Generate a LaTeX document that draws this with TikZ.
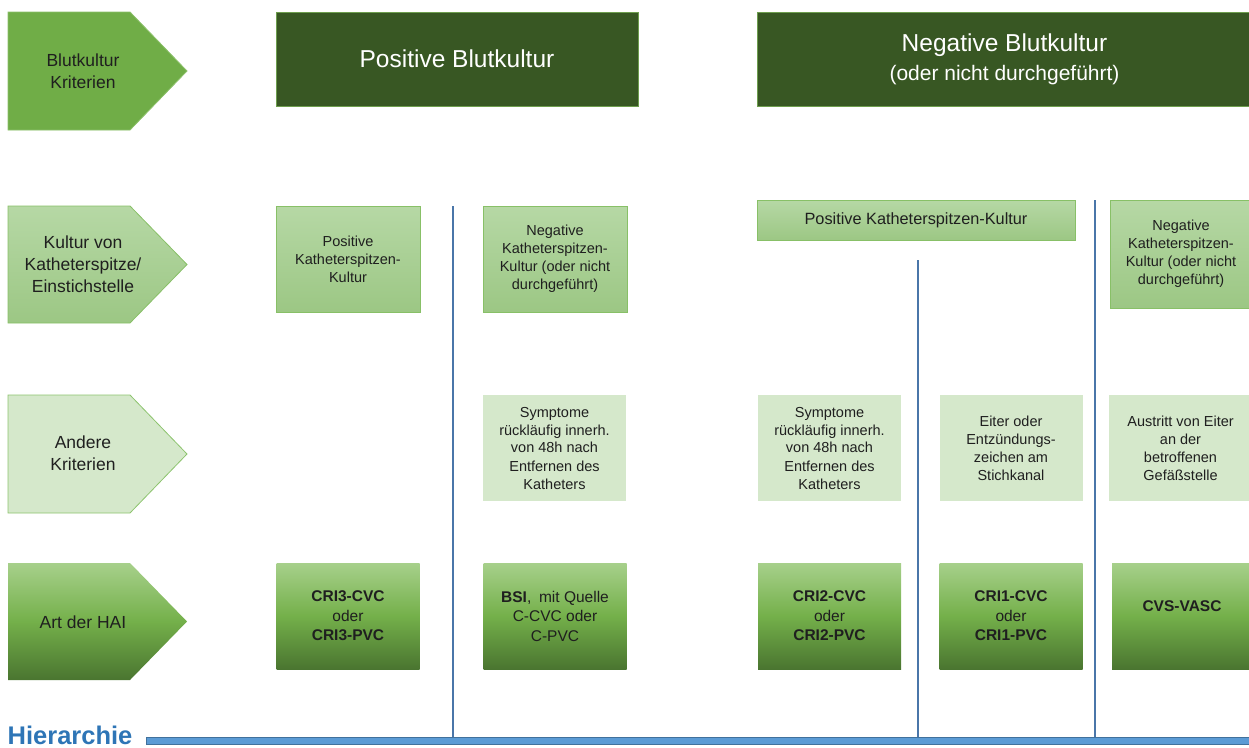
\documentclass[tikz,border=0pt]{standalone}
\usepackage{fontspec}
\setmainfont{Liberation Sans}
\definecolor{hdr}{HTML}{385723}
\definecolor{hdrborder}{HTML}{6E9E4E}
\definecolor{midgreen}{HTML}{70AD47}
\definecolor{midborder}{HTML}{8CC06A}
\definecolor{lgtop}{HTML}{B6D8A5}
\definecolor{lgbot}{HTML}{9CC784}
\definecolor{lgborder}{HTML}{88C067}
\definecolor{pale}{HTML}{D5E8CB}
\definecolor{paleborder}{HTML}{8DC46E}
\definecolor{dgtop}{HTML}{A7D08B}
\definecolor{dgmid}{HTML}{74B04A}
\definecolor{dgbot}{HTML}{4A7530}
\definecolor{sepblue}{HTML}{4A76A9}
\definecolor{barblue}{HTML}{5B9BD5}
\definecolor{barborder}{HTML}{41719C}
\definecolor{hiblue}{HTML}{2E75B6}
\definecolor{txt}{HTML}{1F1F1F}
\tikzset{
  lbl/.style={align=center, text=txt, inner sep=0pt, font=\fontsize{17.5}{22}\selectfont},
  hdrbox/.style={fill=hdr, draw=hdrborder, line width=0.8pt, text=white, align=center, inner sep=0pt},
  katbox/.style={top color=lgtop, bottom color=lgbot, draw=lgborder, line width=0.8pt, text=txt, align=center, inner sep=0pt, font=\fontsize{14.5}{18}\selectfont},
  palebox/.style={fill=pale, draw=none, text=txt, align=center, inner sep=0pt, minimum width=143pt, minimum height=106pt, font=\fontsize{14.5}{18}\selectfont},
  haibox/.style={top color=dgtop, bottom color=dgbot, middle color=dgmid, draw=none, text=txt, align=center, inner sep=0pt, minimum width=143pt, minimum height=106pt, font=\fontsize{15.5}{19.5}\selectfont},
  arrA/.style={fill=midgreen, draw=midborder, line width=0.8pt},
  arrB/.style={top color=lgtop, bottom color=lgbot, draw=lgborder, line width=0.8pt},
  arrC/.style={fill=pale, draw=paleborder, line width=0.8pt},
  arrD/.style={top color=dgtop, bottom color=dgbot, middle color=dgmid, draw=none},
  sepline/.style={draw=sepblue, line width=2pt},
}
\begin{document}
\begin{tikzpicture}[x=1pt,y=-1pt]
\useasboundingbox (0,0) rectangle (1249,747);

% left criterion arrows
\draw[arrA] (8,12) -- (130,12) -- (187,71) -- (130,130) -- (8,130) -- cycle;
\node[lbl] (a1) at (83,71) {Blutkultur\\Kriterien};
\draw[arrB] (8,206) -- (130,206) -- (187,264.5) -- (130,323) -- (8,323) -- cycle;
\node[lbl] (a2) at (83,264) {Kultur von\\Katheterspitze/\\Einstichstelle};
\draw[arrC] (8,395) -- (130,395) -- (187,454) -- (130,513) -- (8,513) -- cycle;
\node[lbl] (a3) at (83,453) {Andere\\Kriterien};
\draw[arrD] (8,563) -- (130,563) -- (187,621.5) -- (130,680) -- (8,680) -- cycle;
\node[lbl] (a4) at (83,622) {Art der HAI};

% headers
\node[hdrbox, minimum width=362pt, minimum height=94pt, font=\fontsize{24.5}{28}\selectfont] (h1) at (457,59) {Positive Blutkultur};
\node[hdrbox, minimum width=495pt, minimum height=94pt, font=\fontsize{24.5}{28}\selectfont] (h2) at (1004.5,59)
  {Negative Blutkultur\\[1pt]{\fontsize{21}{25}\selectfont (oder nicht durchgeführt)}};

% row 2
\node[katbox, minimum width=144pt, minimum height=106pt] (b21) at (348,259) {Positive\\Katheterspitzen-\\Kultur};
\node[katbox, minimum width=144pt, minimum height=106pt] (b22) at (555,259) {Negative\\Katheterspitzen-\\Kultur (oder nicht\\durchgeführt)};
\node[katbox, minimum width=318pt, minimum height=40pt, font=\fontsize{16.3}{20}\selectfont] (b23) at (916,220) {Positive Katheterspitzen-Kultur};
\node[katbox, minimum width=142pt, minimum height=108pt] (b24) at (1181,254) {Negative\\Katheterspitzen-\\Kultur (oder nicht\\durchgeführt)};

% row 3
\node[palebox] (b31) at (554.5,448) {Symptome\\rückläufig innerh.\\von 48h nach\\Entfernen des\\Katheters};
\node[palebox] (b32) at (829.5,448) {Symptome\\rückläufig innerh.\\von 48h nach\\Entfernen des\\Katheters};
\node[palebox] (b33) at (1011,448) {Eiter oder\\Entzündungs-\\zeichen am\\Stichkanal};
\node[palebox] (b34) at (1180.5,448) {Austritt von Eiter\\an der\\betroffenen\\Gefäßstelle};

% row 4
\node[haibox] (b41) at (348,616) {\textbf{CRI3-CVC}\\oder\\\textbf{CRI3-PVC}};
\node[haibox] (b42) at (555,616) {\textbf{BSI},\enspace mit Quelle\\C-CVC oder\\C-PVC};
\node[haibox] (b43) at (829.5,616) {\textbf{CRI2-CVC}\\oder\\\textbf{CRI2-PVC}};
\node[haibox] (b44) at (1011,616) {\textbf{CRI1-CVC}\\oder\\\textbf{CRI1-PVC}};
\node[haibox, minimum width=140pt] (b45) at (1182,616) {\textbf{CVS-VASC}\\\mbox{}};

% separators
\coordinate (s1t) at (453,206);
\coordinate (s1b) at (453,738);
\coordinate (s2t) at (918,260);
\coordinate (s2b) at (918,738);
\coordinate (s3t) at (1095,200);
\coordinate (s3b) at (1095,738);
\draw[sepline] (s1t) -- (s1b);
\draw[sepline] (s2t) -- (s2b);
\draw[sepline] (s3t) -- (s3b);

% hierarchy bar
\draw[fill=barblue, draw=barborder, line width=0.8pt] (146,737) rectangle (1252,744.5);
\node[anchor=base west, inner sep=0pt, text=hiblue, font=\fontsize{25.5}{30}\selectfont\bfseries] (hier) at (7.5,744) {Hierarchie};
\end{tikzpicture}
\end{document}
